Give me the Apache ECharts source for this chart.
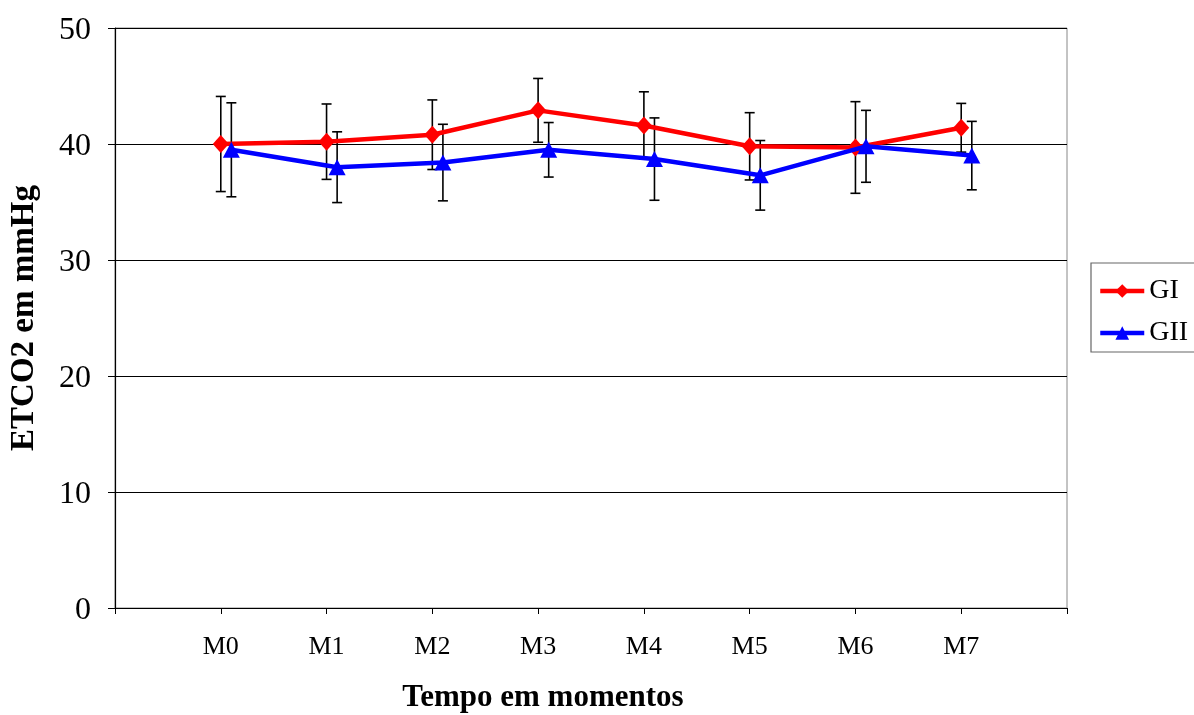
<!DOCTYPE html>
<html>
<head>
<meta charset="utf-8">
<script src="https://cdn.jsdelivr.net/npm/echarts@6/dist/echarts.min.js"></script>
<style>html,body{margin:0;padding:0;background:#fff}#c{width:1194px;height:715px}</style>
</head>
<body>
<div id="c"></div>
<script>
const categories = ['M0','M1','M2','M3','M4','M5','M6','M7'];
const giMean = [40.0, 40.2, 40.8, 42.9, 41.6, 39.8, 39.7, 41.4];
const giSd   = [4.1, 3.25, 3.0, 2.75, 2.9, 2.9, 3.95, 2.1];
const giiMean = [39.5, 38.0, 38.4, 39.5, 38.7, 37.3, 39.8, 39.0];
const giiSd   = [4.05, 3.05, 3.3, 2.35, 3.55, 3.0, 3.1, 2.95];
const yTicks = [0, 10, 20, 30, 40, 50];
const giiOffset = 0.1;

const FONT = '"Liberation Serif","DejaVu Serif",serif';

const giLine = giMean.map((v, i) => [i + 1, v]);
const giiLine = giiMean.map((v, i) => [i + 1 + giiOffset, v]);
const giErr = giMean.map((v, i) => [i + 1, v - giSd[i], v + giSd[i]]);
const giiErr = giiMean.map((v, i) => [i + 1 + giiOffset, v - giiSd[i], v + giiSd[i]]);

function errRender(params, api) {
  const x = api.value(0);
  const lo = api.coord([x, api.value(1)]);
  const hi = api.coord([x, api.value(2)]);
  const w = 5;
  const st = { stroke: '#000', lineWidth: 1.6 };
  return {
    type: 'group',
    children: [
      { type: 'line', shape: { x1: lo[0], y1: lo[1], x2: hi[0], y2: hi[1] }, style: st },
      { type: 'line', shape: { x1: lo[0] - w, y1: lo[1], x2: lo[0] + w, y2: lo[1] }, style: st },
      { type: 'line', shape: { x1: hi[0] - w, y1: hi[1], x2: hi[0] + w, y2: hi[1] }, style: st }
    ]
  };
}

const chart = echarts.init(document.getElementById('c'));
chart.setOption({
  animation: false,
  backgroundColor: '#fff',
  grid: { left: 115, right: 127, top: 28, bottom: 107, containLabel: false, outerBoundsMode: 'none',
          show: true, borderColor: '#888', borderWidth: 1 },
  legend: {
    orient: 'vertical',
    left: 1091, top: 263,
    itemWidth: 44, itemHeight: 17, itemGap: 14,
    padding: [14, 10, 5, 7],
    borderColor: '#666', borderWidth: 1.2,
    textStyle: { fontFamily: FONT, fontSize: 28, color: '#000' },
    lineStyle: { width: 4.5 },
    data: ['GI', 'GII']
  },
  xAxis: {
    type: 'value', min: 0, max: 9, interval: 1,
    axisLine: { lineStyle: { color: '#000', width: 1.2 } },
    axisTick: { show: true, length: 6, lineStyle: { color: '#000' } },
    splitLine: { show: false },
    axisLabel: {
      fontFamily: FONT, fontSize: 26, color: '#000', margin: 26,
      formatter: v => (v >= 1 && v <= 8) ? categories[v - 1] : ''
    },
    name: 'Tempo em momentos', nameLocation: 'middle', nameGap: 74,
    nameTextStyle: { fontFamily: FONT, fontSize: 31, fontWeight: 'bold', color: '#000', padding: [0, 96, 0, 0] }
  },
  yAxis: {
    type: 'value', min: 0, max: 50, interval: 10,
    axisLine: { show: true, lineStyle: { color: '#000', width: 1.2 } },
    axisTick: { show: true, length: 7, lineStyle: { color: '#000' } },
    splitLine: { show: true, lineStyle: { color: '#000', width: 1 } },
    axisLabel: {
      fontFamily: FONT, fontSize: 32, color: '#000', margin: 24,
      formatter: v => yTicks.includes(v) ? '{a|' + v + '}' : '',
      rich: { a: { fontFamily: FONT, fontSize: 32, color: '#000', padding: [6, 0, 0, 0] } }
    },
    name: 'ETCO2 em mmHg', nameLocation: 'middle', nameGap: 74, nameRotate: 90,
    nameTextStyle: { fontFamily: FONT, fontSize: 33, fontWeight: 'bold', color: '#000' }
  },
  series: [
    { type: 'custom', name: 'errGI', renderItem: errRender, data: giErr, encode: { x: 0, y: [1, 2] }, z: 1, silent: true },
    { type: 'custom', name: 'errGII', renderItem: errRender, data: giiErr, encode: { x: 0, y: [1, 2] }, z: 1, silent: true },
    {
      type: 'line', name: 'GI', data: giLine, z: 3,
      symbol: 'diamond', symbolSize: [16, 18],
      lineStyle: { color: '#ff0000', width: 4.5 },
      itemStyle: { color: '#ff0000' }
    },
    {
      type: 'line', name: 'GII', data: giiLine, z: 4,
      symbol: 'triangle', symbolSize: [17, 16],
      lineStyle: { color: '#0000ff', width: 4.5 },
      itemStyle: { color: '#0000ff' }
    }
  ]
});
</script>
</body>
</html>
